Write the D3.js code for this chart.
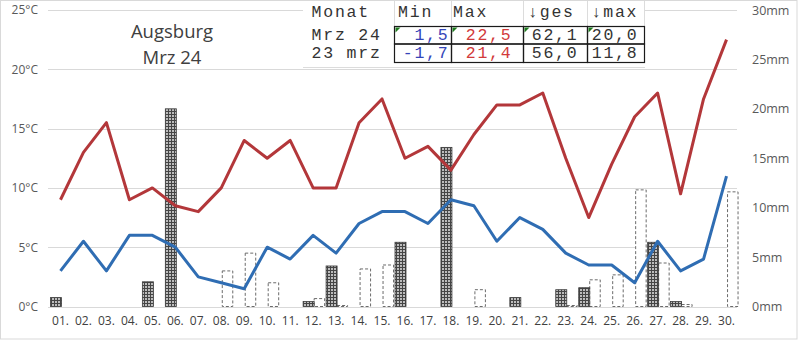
<!DOCTYPE html>
<html>
<head>
<meta charset="utf-8">
<script src="https://cdn.jsdelivr.net/npm/d3@7/dist/d3.min.js"></script>
<style>
  html, body { margin: 0; padding: 0; background: #fff; }
  svg { display: block; }
</style>
</head>
<body>
<svg id="chart" width="800" height="341"></svg>
<script>
// ---------- DATA ----------
const days = ["01.","02.","03.","04.","05.","06.","07.","08.","09.","10.","11.","12.","13.","14.","15.",
              "16.","17.","18.","19.","20.","21.","22.","23.","24.","25.","26.","27.","28.","29.","30."];
const tMax = [9, 13, 15.5, 9, 10, 8.5, 8, 10, 14, 12.5, 14, 10, 10, 15.5, 17.5,
              12.5, 13.5, 11.5, 14.5, 17, 17, 18, 12.5, 7.5, 12, 16, 18, 9.5, 17.5, 22.5];
const tMin = [3, 5.5, 3, 6, 6, 5, 2.5, 2, 1.5, 5, 4, 6, 4.5, 7, 8,
              8, 7, 9, 8.5, 5.5, 7.5, 6.5, 4.5, 3.5, 3.5, 2, 5.5, 3, 4, 11];
const rainNow = [0.9, 0, 0, 0, 2.5, 20.0, 0, 0, 0, 0, 0, 0.5, 4.1, 0, 0,
                 6.5, 0, 16.1, 0, 0, 0.9, 0, 1.7, 1.9, 0, 0, 6.5, 0.5, 0, 0];
const rainPrev = [0, 0, 0, 0, 0, 0, 0, 3.6, 5.4, 2.4, 0, 0.8, 0.1, 3.8, 4.2,
                  0, 0, 0, 1.7, 0, 0, 0, 0.1, 2.7, 3.2, 11.8, 4.4, 0.2, 0, 11.6];
const tempTicks = [0, 5, 10, 15, 20, 25];
const rainTicks = [0, 5, 10, 15, 20, 25, 30];
const titleLines = ["Augsburg", "Mrz 24"];
const tableHeader = ["Monat", "Min", "Max", "\u2193ges", "\u2193max"];
const tableLabels = ["Mrz 24", "23 mrz"];
const tableMin = ["1,5", "-1,7"];
const tableMax = ["22,5", "21,4"];
const tableGes = ["62,1", "56,0"];
const tableRmax = ["20,0", "11,8"];

// ---------- SETUP ----------
const svg = d3.select("#chart");
const plotL = 48, plotR = 737, plotTop = 10, plotBot = 306.5;
const font = "'Open Sans', 'DejaVu Sans', sans-serif";

// outer frame
svg.append("rect").attr("x", 0.5).attr("y", 0.5).attr("width", 796.5).attr("height", 338.5)
  .attr("fill", "#fff").attr("stroke", "#d9d9d9").attr("stroke-width", 1);

const x = d3.scaleBand().domain(days).range([49, 738]).padding(0);
const yT = d3.scaleLinear().domain([0, 25]).range([plotBot, plotTop]);
const yR = d3.scaleLinear().domain([0, 30]).range([plotBot, plotTop]);

// patterns
const defs = svg.append("defs");
const pat = defs.append("pattern").attr("id", "dots").attr("patternUnits", "userSpaceOnUse")
  .attr("width", 3).attr("height", 3);
pat.append("rect").attr("width", 3).attr("height", 3).attr("fill", "#454545");
pat.append("rect").attr("x", 1).attr("y", 1).attr("width", 2).attr("height", 2).attr("fill", "#bdbdbd");

// gridlines
svg.append("g").selectAll("line").data(tempTicks).join("line")
  .attr("x1", plotL).attr("x2", plotR)
  .attr("y1", d => Math.round(yT(d)) + 0.5).attr("y2", d => Math.round(yT(d)) + 0.5)
  .attr("stroke", "#d9d9d9").attr("stroke-width", 1);

// left axis
const axL = svg.append("g").attr("transform", "translate(40,0)")
  .call(d3.axisLeft(yT).tickValues(tempTicks).tickFormat(d => d + "°C").tickSize(0).tickPadding(2));
axL.select(".domain").remove();
axL.selectAll("text").attr("font-family", font).attr("font-size", 12).attr("fill", "#595959");

// right axis
const axR = svg.append("g").attr("transform", "translate(750,0)")
  .call(d3.axisRight(yR).tickValues(rainTicks).tickFormat(d => d + "mm").tickSize(0).tickPadding(2));
axR.select(".domain").remove();
axR.selectAll("text").attr("font-family", font).attr("font-size", 12.5).attr("fill", "#595959");

// bottom axis
const axB = svg.append("g").attr("transform", "translate(0," + 316 + ")")
  .call(d3.axisBottom(x).tickSize(0).tickPadding(0));
axB.select(".domain").remove();
axB.selectAll("text").attr("font-family", font).attr("font-size", 12).attr("fill", "#404040")
  .attr("dy", "0.71em");

// previous year bars (dashed outline)
svg.append("g").selectAll("rect").data(rainPrev.map((v, i) => ({ d: days[i], v })).filter(o => o.v > 0))
  .join("rect")
  .attr("x", o => x(o.d) + 12.5).attr("width", 10.5)
  .attr("y", o => yR(o.v)).attr("height", o => yR(0) - yR(o.v))
  .attr("fill", "#fff").attr("stroke", "#6b6b6b").attr("stroke-width", 1)
  .attr("stroke-dasharray", "3,2");

// current year bars (pattern)
svg.append("g").selectAll("rect").data(rainNow.map((v, i) => ({ d: days[i], v })).filter(o => o.v > 0))
  .join("rect")
  .attr("x", o => x(o.d) + 1.5).attr("width", 11)
  .attr("y", o => yR(o.v)).attr("height", o => yR(0) - yR(o.v))
  .attr("fill", "url(#dots)").attr("stroke", "#3a3a3a").attr("stroke-width", 0.8);

// axis baseline
svg.append("line").attr("x1", plotL).attr("x2", plotR)
  .attr("y1", Math.round(yT(0)) + 0.5).attr("y2", Math.round(yT(0)) + 0.5)
  .attr("stroke", "#d9d9d9");

// lines
const line = d3.line().x((d, i) => x(days[i]) + x.bandwidth() / 2).y(d => yT(d));
svg.append("path").datum(tMax).attr("d", line).attr("fill", "none")
  .attr("stroke", "#b3373a").attr("stroke-width", 3).attr("stroke-linejoin", "round");
svg.append("path").datum(tMin).attr("d", line).attr("fill", "none")
  .attr("stroke", "#2f6db3").attr("stroke-width", 3).attr("stroke-linejoin", "round");

// title
svg.append("g").selectAll("text").data(titleLines).join("text")
  .attr("x", 172).attr("y", (d, i) => 38 + i * 25.5)
  .attr("text-anchor", "middle").attr("font-family", font).attr("font-size", 18.5)
  .attr("fill", "#404040").text(d => d);

// ---------- TABLE ----------
const tab = svg.append("g");
const mono = "'Liberation Mono', 'DejaVu Sans Mono', monospace";
const fs = 16.5, ls = 1.8;
tab.append("rect").attr("x", 303).attr("y", 1).attr("width", 342).attr("height", 66).attr("fill", "#fff");
const colEdges = [394, 451, 523, 587, 644];
// light sheet gridlines in header
tab.selectAll("line.hg").data(colEdges).join("line").attr("class", "hg")
  .attr("x1", d => d + 0.5).attr("x2", d => d + 0.5).attr("y1", 1).attr("y2", 26)
  .attr("stroke", "#dcdcdc");
tab.append("line").attr("x1", 303).attr("x2", 645).attr("y1", 67.5).attr("y2", 67.5).attr("stroke", "#dcdcdc");
// header text
const headX = [311.5, 398, 453, 528, 591.5];
tab.selectAll("text.h").data(tableHeader).join("text").attr("class", "h")
  .attr("x", (d, i) => headX[i]).attr("y", 17)
  .attr("font-family", mono).attr("font-size", fs).attr("letter-spacing", ls)
  .attr("fill", "#333").text(d => d);
// cell borders
const rowEdges = [26, 43.5, 62];
for (let r = 0; r < 2; r++) {
  for (let c = 0; c < 4; c++) {
    tab.append("rect").attr("x", colEdges[c] + 0.5).attr("y", rowEdges[r] + 0.5)
      .attr("width", colEdges[c + 1] - colEdges[c]).attr("height", rowEdges[r + 1] - rowEdges[r])
      .attr("fill", "none").attr("stroke", "#1a1a1a").attr("stroke-width", 1.2);
  }
}
// green triangles in first row
tab.selectAll("path.tri").data(colEdges.slice(0, 4)).join("path").attr("class", "tri")
  .attr("d", d => `M${d + 1.5},${27.5} h5 l-5,5 z`).attr("fill", "#1f7a1f");
// row labels
const rowY = [40, 58];
tab.selectAll("text.rl").data(tableLabels).join("text").attr("class", "rl")
  .attr("x", 311.5).attr("y", (d, i) => rowY[i])
  .attr("font-family", mono).attr("font-size", fs).attr("letter-spacing", ls)
  .attr("fill", "#333").text(d => d);
const cols = [
  { vals: tableMin, end: 449.5, color: "#3445b8" },
  { vals: tableMax, end: 512.5, color: "#d23a3a" },
  { vals: tableGes, end: 578.5, color: "#333" },
  { vals: tableRmax, end: 638.5, color: "#333" }
];
cols.forEach(c => {
  tab.append("g").selectAll("text").data(c.vals).join("text")
    .attr("x", c.end).attr("y", (d, i) => rowY[i]).attr("text-anchor", "end")
    .attr("font-family", mono).attr("font-size", fs).attr("letter-spacing", ls)
    .attr("fill", c.color).text(d => d);
});
</script>
</body>
</html>
